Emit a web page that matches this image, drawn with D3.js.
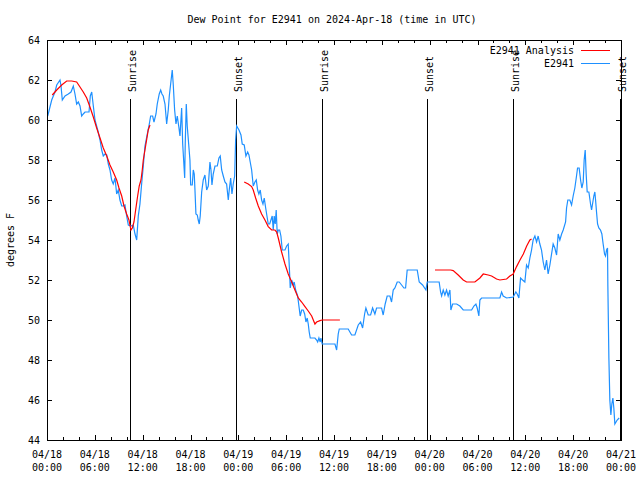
<!DOCTYPE html>
<html>
<head>
<meta charset="utf-8">
<script src="https://cdn.jsdelivr.net/npm/d3@7"></script>
<style>
  html, body { margin: 0; padding: 0; background: #fff; }
  svg { display: block; }
  text { font-family: "DejaVu Sans Mono", "Liberation Mono", monospace; font-size: 10px; fill: #000; }
</style>
</head>
<body>
<svg id="chart" width="640" height="480"></svg>
<script>
// ---------------- DATA ----------------
const chartTitle = "Dew Point for E2941 on 2024-Apr-18 (time in UTC)";
const yAxisTitle = "degrees F";
const seriesNames = ["E2941 Analysis", "E2941"];
const seriesColors = ["#ff0000", "#1e90ff"];

// hours since 04/18 00:00 UTC
const xMajorTicks = [0, 6, 12, 18, 24, 30, 36, 42, 48, 54, 60, 66, 72];
const xTickDates = ["04/18","04/18","04/18","04/18","04/19","04/19","04/19","04/19","04/20","04/20","04/20","04/20","04/21"];
const xTickTimes = ["00:00","06:00","12:00","18:00","00:00","06:00","12:00","18:00","00:00","06:00","12:00","18:00","00:00"];
const yTicks = [44, 46, 48, 50, 52, 54, 56, 58, 60, 62, 64];

const sunHours = [10.41, 23.70, 34.53, 47.70, 58.48, 71.87];
const sunLabels = ["Sunrise", "Sunset", "Sunrise", "Sunset", "Sunrise", "Sunset"];

// Station observations (E2941)
const obsHours = [0.09,0.59,1.00,1.22,1.63,1.76,1.92,2.26,2.67,3.01,3.30,3.51,3.72,3.93,4.14,4.35,4.55,4.77,5.27,5.43,5.61,5.81,6.02,6.36,6.65,6.86,7.06,7.27,7.49,7.69,7.90,8.11,8.31,8.53,8.74,8.94,9.15,9.37,9.57,9.78,9.99,10.20,10.53,10.82,11.04,11.25,11.45,11.66,11.87,12.08,12.29,12.58,12.83,13.00,13.25,13.42,13.67,13.83,14.08,14.26,14.42,14.58,14.80,15.01,15.21,15.34,15.51,15.71,15.84,16.01,16.18,16.34,16.52,16.68,16.89,17.02,17.14,17.27,17.34,17.47,17.59,17.77,17.93,18.02,18.22,18.35,18.47,18.56,18.68,18.85,18.97,19.10,19.22,19.40,19.60,19.81,20.03,20.23,20.44,20.57,20.69,20.85,21.07,21.36,21.57,21.73,21.91,22.11,22.32,22.53,22.74,22.86,23.04,23.20,23.36,23.54,23.66,23.79,24.08,24.33,24.49,24.74,24.95,25.17,25.33,25.49,25.67,25.87,26.08,26.25,26.42,26.58,26.75,26.92,27.09,27.25,27.43,27.59,27.75,27.93,28.09,28.25,28.38,28.50,28.63,28.75,28.88,29.01,29.18,29.34,29.51,29.85,30.06,30.26,30.39,30.51,30.69,30.89,31.01,31.19,31.44,31.60,31.76,31.94,32.14,32.32,32.48,32.64,32.77,32.89,33.02,33.61,33.82,33.95,34.11,34.27,34.36,34.52,36.12,36.33,36.53,36.66,37.78,38.21,38.62,39.04,39.34,39.59,39.84,40.00,40.29,40.59,40.84,41.13,41.34,41.97,42.17,42.42,42.67,43.01,43.22,43.43,43.64,43.93,44.18,44.48,44.77,44.98,45.18,46.44,46.69,47.11,47.53,47.69,49.19,49.37,49.50,49.70,49.91,50.12,50.32,50.54,50.66,50.88,51.38,51.79,52.21,52.63,53.26,53.55,53.80,53.96,54.17,54.30,54.51,56.81,57.02,57.22,57.65,58.48,58.81,58.98,59.19,59.40,59.65,59.94,60.15,60.36,60.57,60.78,60.98,61.20,61.41,61.61,61.82,62.03,62.24,62.45,62.66,62.86,63.08,63.29,63.49,63.70,63.92,64.12,64.33,64.55,64.75,65.05,65.17,65.33,65.58,65.80,66.00,66.21,66.42,66.55,66.75,66.93,67.09,67.26,67.38,67.51,67.63,67.76,67.97,68.18,68.31,68.43,68.59,68.72,68.81,68.93,69.06,69.22,69.43,69.60,69.76,69.94,70.06,70.19,70.31,70.35,70.48,70.60,70.73,70.85,70.98,71.10,71.23,71.52,71.77];
const obsDew = [60.2,61.0,61.4,61.75,62.0,61.7,61.0,61.2,61.3,61.4,61.7,61.3,60.8,60.9,60.7,60.2,60.3,60.4,60.4,61.2,61.4,60.7,60.0,59.5,59.0,58.5,58.2,58.3,58.25,57.8,57.5,57.0,56.8,57.1,56.3,56.5,56.0,55.7,55.7,55.75,55.2,54.75,54.7,54.75,54.3,54.0,55.2,55.8,56.8,57.7,58.7,59.3,59.8,60.2,60.2,59.9,60.3,60.8,61.3,61.5,61.3,61.2,60.8,59.8,60.5,61.2,61.8,62.5,61.75,60.5,59.8,60.2,59.7,59.2,60.6,58.8,58.0,57.1,58.8,60.8,59.7,58.8,58.0,56.75,56.75,57.5,57.3,56.5,55.3,55.25,55.0,54.8,55.2,56.4,57.0,57.25,56.5,56.7,57.9,57.5,56.75,57.3,57.7,57.7,58.1,58.2,57.5,57.2,56.9,56.8,56.0,56.5,57.1,56.3,56.8,57.2,59.0,59.7,59.5,59.25,58.8,58.75,58.2,58.4,58.25,57.9,57.5,56.7,56.9,57.0,56.5,56.3,56.5,56.0,55.8,56.1,55.6,55.2,54.8,54.8,55.0,55.2,54.5,55.2,54.8,55.5,54.3,54.5,54.5,54.2,53.5,53.5,53.7,53.8,52.7,51.6,52.0,51.75,51.9,51.5,51.2,50.7,50.2,50.5,50.5,50.3,49.9,50.1,49.8,49.4,49.1,49.1,49.0,48.9,49.1,48.9,49.1,48.8,48.8,48.5,49.3,49.55,49.55,49.25,49.25,49.75,49.9,49.6,50.3,50.6,50.25,50.25,50.6,50.3,50.6,50.6,50.25,50.8,51.2,51.2,50.9,51.5,51.6,51.9,51.9,51.75,51.6,51.6,52.5,52.5,51.9,51.75,51.5,51.9,51.9,51.4,51.2,51.5,51.25,51.5,51.2,51.5,50.5,50.8,50.8,50.7,50.5,50.5,50.5,50.7,50.8,50.6,50.2,51.0,51.1,51.1,51.4,51.2,51.1,51.15,51.4,51.3,51.1,52.1,52.0,51.9,52.75,52.6,53.1,53.5,54.0,54.2,53.9,54.2,53.8,53.5,52.9,52.5,53.0,52.3,52.75,53.3,53.8,53.6,53.25,54.3,54.0,54.3,54.5,54.9,55.6,56.0,56.0,55.75,56.2,56.6,57.2,57.6,57.6,57.0,56.6,56.9,58.0,58.5,57.3,56.4,56.4,55.8,55.5,55.8,56.2,56.4,56.0,55.4,54.8,54.6,54.5,54.3,53.8,53.3,53.2,53.5,53.6,51.75,48.1,46.0,45.25,45.8,46.1,45.6,44.8,45.0,45.1];

// Analysis (null = gap)
const anaHours = [0.66,1.22,1.84,2.47,3.10,3.72,4.14,4.55,4.98,5.39,5.81,6.23,6.65,7.06,7.49,7.90,8.31,8.74,9.03,9.37,9.66,9.99,10.28,10.53,10.70,10.91,11.12,11.37,11.57,11.79,11.95,12.08,12.41,12.70,12.92,
  18.0,
  24.74,25.24,25.67,25.87,26.17,26.50,26.92,27.34,27.75,28.18,28.59,28.81,29.01,29.43,29.85,30.26,30.69,31.10,31.52,31.94,32.36,32.77,33.20,33.61,33.82,34.24,34.52,36.74,
  42.0,
  48.67,50.63,50.95,51.58,52.21,52.63,53.67,54.30,54.72,55.34,55.77,56.39,56.81,57.65,58.06,58.48,58.90,59.33,59.75,60.17,60.57,60.78];
const anaDew = [61.25,61.5,61.75,61.95,61.95,61.9,61.65,61.4,61.1,60.65,60.15,59.6,59.1,58.6,58.2,57.75,57.4,57.0,56.6,56.2,55.7,55.3,55.0,54.5,54.6,54.9,55.5,56.2,56.7,57.0,57.5,58.0,58.8,59.5,59.75,
  null,
  56.9,56.8,56.67,56.5,56.1,55.7,55.3,55.0,54.67,54.5,54.5,54.4,54.1,53.4,52.8,52.3,51.9,51.5,51.1,50.9,50.67,50.45,50.2,49.8,49.9,49.97,50.0,50.0,
  null,
  52.5,52.5,52.47,52.25,52.0,51.9,51.9,52.1,52.3,52.25,52.2,52.05,52.0,52.05,52.2,52.3,52.67,53.0,53.3,53.7,54.0,54.05];

// ---------------- LAYOUT ----------------
const W = 640, H = 480;
const m = { left: 47, right: 19, top: 40, bottom: 40 };
const svg = d3.select("#chart");

const x = d3.scaleLinear().domain([0, 72]).range([m.left, W - m.right]);
const y = d3.scaleLinear().domain([44, 64]).range([H - m.bottom, m.top]);
const xMinor = d3.range(0, 73, 2).filter(h => h % 6 !== 0);

function styleAxis(g) {
  g.select(".domain").remove();
  g.selectAll("line").attr("stroke", "#000").attr("shape-rendering", "crispEdges");
  g.selectAll("text").style("font-family", '"DejaVu Sans Mono", monospace').style("font-size", "10px");
}

// bottom major
svg.append("g").attr("transform", `translate(0,${y(44)})`)
  .call(d3.axisBottom(x).tickValues(xMajorTicks).tickSize(-5).tickSizeOuter(0).tickFormat(""))
  .call(styleAxis);
svg.append("g").attr("transform", `translate(0,${y(44)})`)
  .call(d3.axisBottom(x).tickValues(xMinor).tickSize(-3).tickSizeOuter(0).tickFormat(""))
  .call(styleAxis);
// top major/minor
svg.append("g").attr("transform", `translate(0,${y(64)})`)
  .call(d3.axisTop(x).tickValues(xMajorTicks).tickSize(-5).tickSizeOuter(0).tickFormat(""))
  .call(styleAxis);
svg.append("g").attr("transform", `translate(0,${y(64)})`)
  .call(d3.axisTop(x).tickValues(xMinor).tickSize(-3).tickSizeOuter(0).tickFormat(""))
  .call(styleAxis);
// left
svg.append("g").attr("transform", `translate(${x(0)},0)`)
  .call(d3.axisLeft(y).tickValues(yTicks).tickSize(-5).tickSizeOuter(0).tickPadding(7).tickFormat(d3.format("d")))
  .call(styleAxis);
// right
svg.append("g").attr("transform", `translate(${x(72)},0)`)
  .call(d3.axisRight(y).tickValues(yTicks).tickSize(-5).tickSizeOuter(0).tickFormat(""))
  .call(styleAxis);

// x tick labels (two lines)
const xl = svg.append("g");
xMajorTicks.forEach((h, i) => {
  const t = xl.append("text").attr("text-anchor", "middle").attr("x", x(h));
  t.append("tspan").attr("x", x(h)).attr("y", H - m.bottom + 18).text(xTickDates[i]);
  t.append("tspan").attr("x", x(h)).attr("y", H - m.bottom + 31).text(xTickTimes[i]);
});

// sunrise/sunset lines
const sun = svg.append("g");
sunHours.forEach((h, i) => {
  sun.append("line")
    .attr("x1", Math.round(x(h)) + 0.5).attr("x2", Math.round(x(h)) + 0.5)
    .attr("y1", m.top + 59).attr("y2", y(44))
    .attr("stroke", "#000").attr("stroke-width", 1);
  sun.append("text")
    .attr("transform", `translate(${Math.round(x(h)) + 6},${m.top + 52}) rotate(-90)`)
    .attr("text-anchor", "start")
    .text(sunLabels[i]);
});

// series lines
const obs = obsHours.map((h, i) => [h, obsDew[i]]);
const ana = anaHours.map((h, i) => [h, anaDew[i]]);
const line = d3.line().defined(d => d[1] !== null).x(d => x(d[0])).y(d => y(d[1]));

svg.append("path").datum(obs)
  .attr("fill", "none").attr("stroke", seriesColors[1]).attr("stroke-width", 1.2)
  .attr("d", line);
svg.append("path").datum(ana)
  .attr("fill", "none").attr("stroke", seriesColors[0]).attr("stroke-width", 1.2)
  .attr("d", line);

// border
svg.append("rect")
  .attr("x", x(0) + 0.5).attr("y", y(64) + 0.5)
  .attr("width", x(72) - x(0)).attr("height", y(44) - y(64))
  .attr("fill", "none").attr("stroke", "#000").attr("shape-rendering", "crispEdges");

// title
svg.append("text").attr("x", 332).attr("y", 23).attr("text-anchor", "middle").text(chartTitle);

// y-axis title
svg.append("text").attr("transform", `translate(14,${(y(44) + y(64)) / 2}) rotate(-90)`)
  .attr("text-anchor", "middle").text(yAxisTitle);

// legend
const leg = svg.append("g");
seriesNames.forEach((name, i) => {
  const ly = m.top + 10 + i * 13;
  leg.append("text").attr("x", 574).attr("y", ly + 4).attr("text-anchor", "end").text(name);
  leg.append("line").attr("x1", 581).attr("x2", 610).attr("y1", ly + 0.5).attr("y2", ly + 0.5)
    .attr("stroke", seriesColors[i]).attr("stroke-width", 1);
});
</script>
</body>
</html>
